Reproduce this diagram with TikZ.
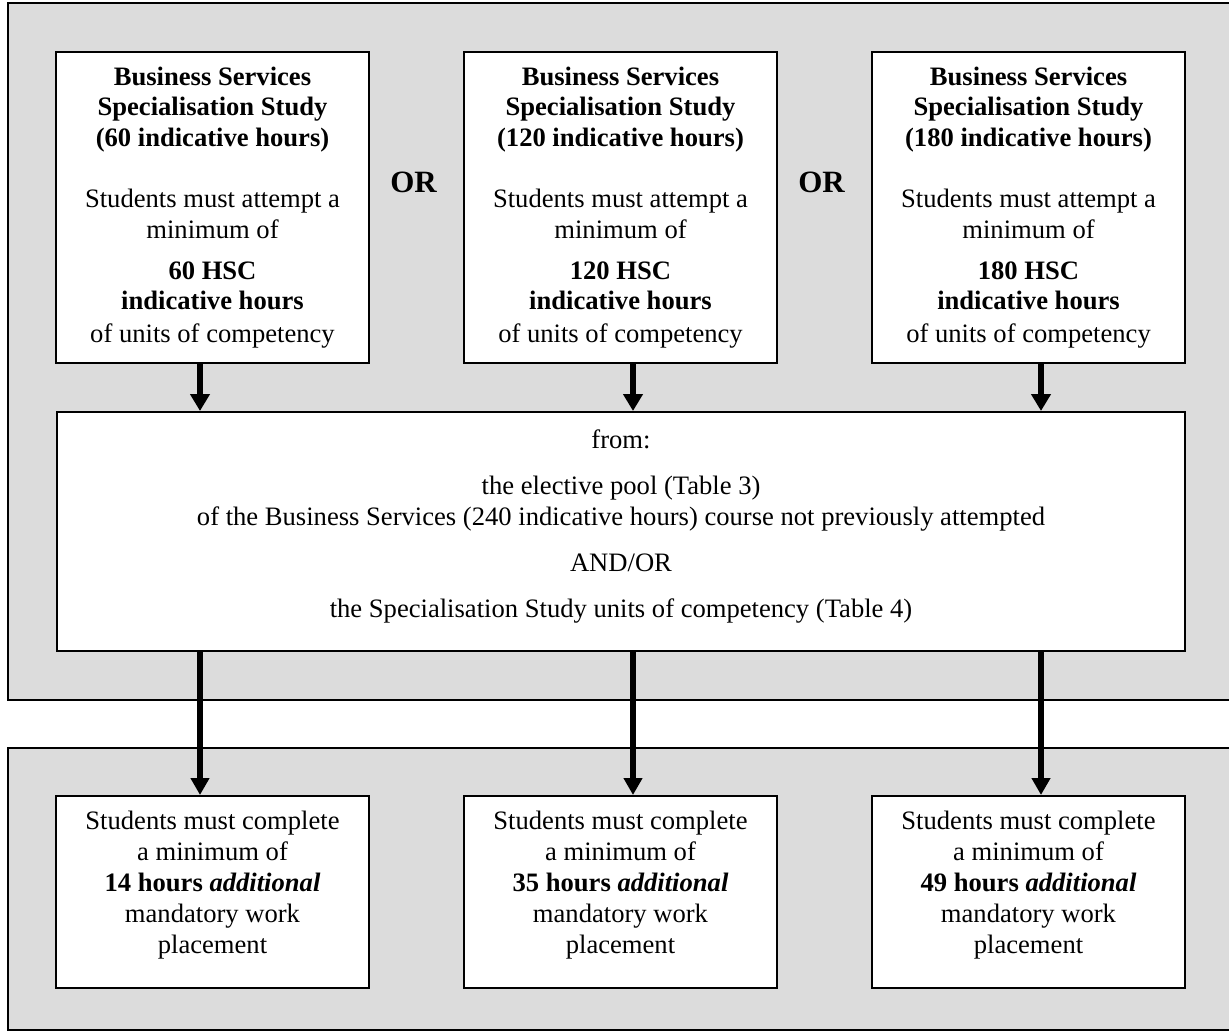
\documentclass[tikz,border=0pt]{standalone}
\usepackage{fontspec}
\setmainfont{Liberation Serif}
\usetikzlibrary{arrows.meta,calc}
\definecolor{panelgray}{RGB}{220,220,220}
\begin{document}
\begin{tikzpicture}[x=0.5pt,y=-0.5pt,
  panel/.style={draw=black,line width=1pt,fill=panelgray},
  box/.style={draw=black,line width=1pt,fill=white,inner sep=0pt},
  txt/.style={align=center,inner sep=0pt,font=\fontsize{13.3}{15.2}\selectfont},
  topbox/.style={box,minimum width=156.5pt,minimum height=155.5pt},
  botbox/.style={box,minimum width=156.5pt,minimum height=96pt},
  orlabel/.style={font=\fontsize{15.5}{18}\selectfont\bfseries},
  thinarrow/.style={line width=2.6pt,-{Triangle[width=9.5pt,length=8.5pt]}},
  thickarrow/.style={line width=3.3pt,-{Triangle[width=9pt,length=8.5pt]}}]
\useasboundingbox (0,0) rectangle (1229,1032);
\clip (0,0) rectangle (1229,1032);

% background panels
\draw[panel] (8,3) rectangle (1245,700);
\draw[panel] (8,748) rectangle (1245,1030);

% study options
\node[topbox] (t1) at (212.5,207.5) {};
\node[topbox] (t2) at (620.5,207.5) {};
\node[topbox] (t3) at (1028.5,207.5) {};
\node[txt] (t1text) at (t1.center) {\textbf{Business Services}\\\textbf{Specialisation Study}\\\textbf{(60 indicative hours)}\\[15.5pt]Students must attempt a\\minimum of\\[5.5pt]\textbf{60 HSC}\\\textbf{indicative hours}\\[1pt]of units of competency};
\node[txt] (t2text) at (t2.center) {\textbf{Business Services}\\\textbf{Specialisation Study}\\\textbf{(120 indicative hours)}\\[15.5pt]Students must attempt a\\minimum of\\[5.5pt]\textbf{120 HSC}\\\textbf{indicative hours}\\[1pt]of units of competency};
\node[txt] (t3text) at (t3.center) {\textbf{Business Services}\\\textbf{Specialisation Study}\\\textbf{(180 indicative hours)}\\[15.5pt]Students must attempt a\\minimum of\\[5.5pt]\textbf{180 HSC}\\\textbf{indicative hours}\\[1pt]of units of competency};

\node[orlabel] (or1) at ($(t1.east)!0.5!(t2.west)+(-3,-25)$) {OR};
\node[orlabel] (or2) at ($(t2.east)!0.5!(t3.west)+(-3,-25)$) {OR};

% source of units
\node[box,minimum width=564pt,minimum height=119.5pt] (mid) at (621,531.5) {};
\node[txt] (midtext) at ([yshift=2.5pt]mid.center) {from:\\[8pt]the elective pool (Table 3)\\of the Business Services (240 indicative hours) course not previously attempted\\[8pt]AND/OR\\[8pt]the Specialisation Study units of competency (Table 4)};

% work placement
\node[botbox] (b1) at (212.5,892) {};
\node[botbox] (b2) at (620.5,892) {};
\node[botbox] (b3) at (1028.5,892) {};
\node[txt,font=\fontsize{13.3}{15.6}\selectfont] (b1text) at ([yshift=3.5pt]b1.center) {Students must complete\\a minimum of\\\textbf{14 hours \textit{additional}}\\mandatory work\\placement};
\node[txt,font=\fontsize{13.3}{15.6}\selectfont] (b2text) at ([yshift=3.5pt]b2.center) {Students must complete\\a minimum of\\\textbf{35 hours \textit{additional}}\\mandatory work\\placement};
\node[txt,font=\fontsize{13.3}{15.6}\selectfont] (b3text) at ([yshift=3.5pt]b3.center) {Students must complete\\a minimum of\\\textbf{49 hours \textit{additional}}\\mandatory work\\placement};

% connectors
\coordinate (a1) at ([xshift=-6.25pt]t1.south);
\coordinate (a2) at ([xshift=6.25pt]t2.south);
\coordinate (a3) at ([xshift=6.25pt]t3.south);
\foreach \a in {a1,a2,a3} {
  \draw[thinarrow] (\a) -- (\a |- mid.north);
}
\draw[thickarrow] (a1 |- mid.south) -- (a1 |- b1.north);
\draw[thickarrow] (a2 |- mid.south) -- (a2 |- b2.north);
\draw[thickarrow] (a3 |- mid.south) -- (a3 |- b3.north);
\end{tikzpicture}
\end{document}
